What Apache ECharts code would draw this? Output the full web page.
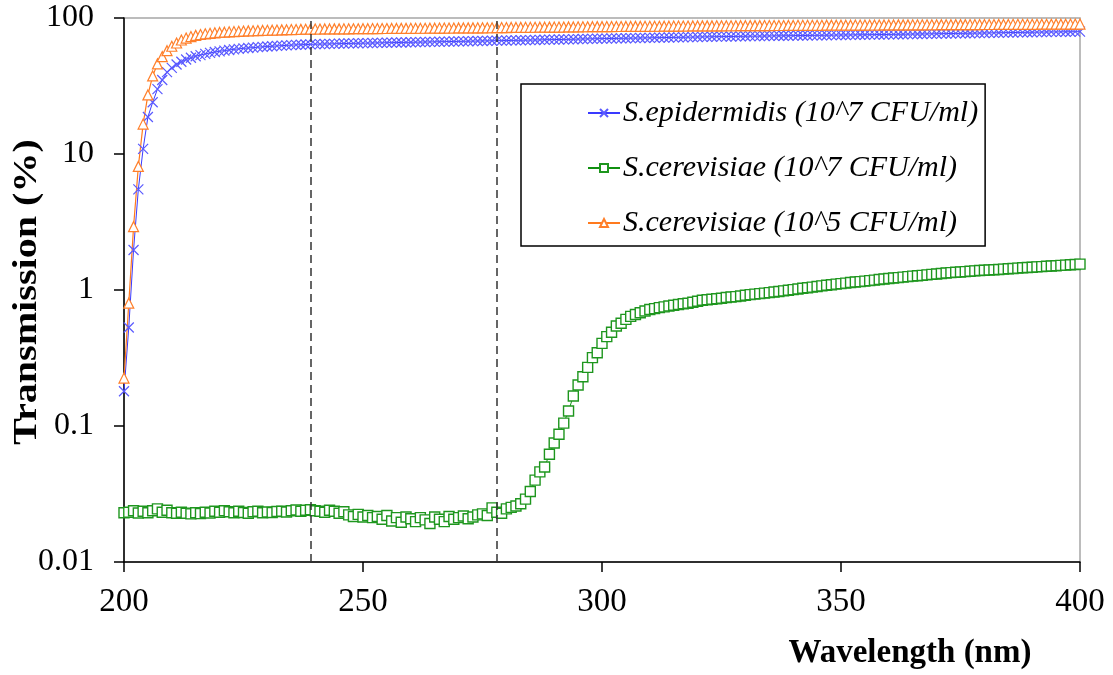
<!DOCTYPE html>
<html>
<head>
<meta charset="utf-8">
<script src="https://cdn.jsdelivr.net/npm/echarts@6/dist/echarts.min.js"></script>
<style>html,body{margin:0;padding:0;background:#fff}#c{width:1113px;height:675px}</style>
</head>
<body>
<div id="c"></div>
<script>
// Wavelength grid: 200..400 nm, 1 nm step
const wlStart = 200, wlEnd = 400;
const seriesNames = ['S.epidermidis (10^7 CFU/ml)', 'S.cerevisiae (10^7 CFU/ml)', 'S.cerevisiae (10^5 CFU/ml)'];
const yTickLabels = ['0.01', '0.1', '1', '10', '100'];
const xTickLabels = ['200', '250', '300', '350', '400'];
const guideLines = [239, 278];

const epidermidis7 = [
0.18, 0.53, 1.97, 5.5, 10.9, 18.7, 24, 30, 35, 40,
43, 45.5, 47.7, 49.5, 51, 52.3, 53.4, 54.5, 55.4, 56.2,
56.9, 57.6, 58.2, 58.8, 59.3, 59.8, 60.2, 60.6, 61.0, 61.4,
61.7, 62.0, 62.3, 62.6, 62.9, 63.2, 63.4, 63.6, 63.8, 64.0,
64.2, 64.3, 64.4, 64.5, 64.6, 64.8, 64.9, 65.0, 65.1, 65.2,
65.3, 65.4, 65.5, 65.6, 65.7, 65.8, 65.9, 66.0, 66.1, 66.2,
66.3, 66.4, 66.5, 66.6, 66.7, 66.8, 66.9, 67.0, 67.1, 67.2,
67.3, 67.4, 67.5, 67.6, 67.7, 67.8, 67.9, 68.0, 68.1, 68.2,
68.3, 68.4, 68.5, 68.6, 68.7, 68.8, 68.9, 69.0, 69.2, 69.3,
69.4, 69.5, 69.6, 69.7, 69.8, 70.0, 70.1, 70.2, 70.3, 70.4,
70.5, 70.6, 70.7, 70.8, 70.9, 71.0, 71.1, 71.2, 71.3, 71.4,
71.5, 71.6, 71.7, 71.8, 71.9, 72.0, 72.1, 72.2, 72.3, 72.4,
72.5, 72.6, 72.7, 72.8, 72.9, 73.0, 73.0, 73.1, 73.2, 73.3,
73.4, 73.5, 73.5, 73.6, 73.7, 73.8, 73.9, 74.0, 74.0, 74.1,
74.2, 74.3, 74.3, 74.4, 74.5, 74.6, 74.6, 74.7, 74.8, 74.9,
75.0, 75.0, 75.1, 75.2, 75.3, 75.3, 75.4, 75.5, 75.6, 75.6,
75.7, 75.8, 75.9, 76.0, 76.1, 76.2, 76.3, 76.3, 76.4, 76.5,
76.6, 76.7, 76.8, 76.9, 77.0, 77.1, 77.2, 77.3, 77.4, 77.5,
77.6, 77.7, 77.8, 77.9, 78.0, 78.1, 78.2, 78.3, 78.4, 78.5,
78.6, 78.7, 78.8, 78.9, 79.0, 79.0, 79.1, 79.2, 79.2, 79.3,
79.3
];

const cerevisiae7 = [
0.0230, 0.0232, 0.0238, 0.0229, 0.0236, 0.0230, 0.0238, 0.0246, 0.0232, 0.0240,
0.0230, 0.0228, 0.0232, 0.0228, 0.0226, 0.0230, 0.0227, 0.0232, 0.0229, 0.0236,
0.0232, 0.0238, 0.0234, 0.0230, 0.0236, 0.0231, 0.0228, 0.0234, 0.0236, 0.0230,
0.0233, 0.0231, 0.0235, 0.0236, 0.0233, 0.0238, 0.0241, 0.0236, 0.0240, 0.0242,
0.0238, 0.0236, 0.0232, 0.0240, 0.0236, 0.0228, 0.0234, 0.0222, 0.0216, 0.0224,
0.0214, 0.0220, 0.0212, 0.0216, 0.0206, 0.0220, 0.0200, 0.0212, 0.0196, 0.0214,
0.0208, 0.0198, 0.0212, 0.0204, 0.0192, 0.0214, 0.0206, 0.0198, 0.0216, 0.0206,
0.0212, 0.0218, 0.0208, 0.0214, 0.0222, 0.0226, 0.0220, 0.0250, 0.0232, 0.0228,
0.0246, 0.0252, 0.0258, 0.0268, 0.0290, 0.0330, 0.0400, 0.0460, 0.0500, 0.0620,
0.0750, 0.0870, 0.105, 0.129, 0.166, 0.200, 0.230, 0.270, 0.318, 0.346,
0.405, 0.454, 0.489, 0.543, 0.569, 0.608, 0.640, 0.660, 0.680, 0.700,
0.718, 0.730, 0.742, 0.752, 0.762, 0.772, 0.782, 0.792, 0.800, 0.812,
0.826, 0.840, 0.848, 0.856, 0.862, 0.870, 0.880, 0.888, 0.894, 0.904,
0.914, 0.924, 0.932, 0.940, 0.948, 0.956, 0.966, 0.976, 0.986, 0.996,
1.006, 1.018, 1.030, 1.040, 1.050, 1.060, 1.072, 1.084, 1.094, 1.104,
1.114, 1.124, 1.134, 1.144, 1.152, 1.162, 1.172, 1.182, 1.194, 1.204,
1.214, 1.224, 1.234, 1.244, 1.254, 1.264, 1.272, 1.282, 1.292, 1.302,
1.312, 1.322, 1.332, 1.342, 1.350, 1.358, 1.366, 1.374, 1.382, 1.390,
1.398, 1.404, 1.410, 1.416, 1.424, 1.432, 1.440, 1.448, 1.456, 1.462,
1.470, 1.478, 1.486, 1.494, 1.500, 1.508, 1.516, 1.524, 1.532, 1.540,
1.550
];

const cerevisiae5 = [
0.225, 0.80, 2.92, 8.1, 16.6, 27.2, 37.5, 46, 52, 57.5,
62, 65.5, 68.9, 71.2, 73, 74.5, 75.6, 76.5, 77.2, 77.8,
78.3, 78.7, 79.1, 79.5, 79.8, 80.1, 80.4, 80.6, 80.8, 81.0,
81.2, 81.4, 81.6, 81.8, 82.0, 82.2, 82.3, 82.5, 82.7, 82.8,
83.0, 83.0, 83.1, 83.1, 83.2, 83.2, 83.3, 83.3, 83.4, 83.4,
83.5, 83.5, 83.6, 83.6, 83.7, 83.7, 83.8, 83.8, 83.9, 83.9,
84.0, 84.0, 84.1, 84.1, 84.2, 84.2, 84.3, 84.3, 84.4, 84.4,
84.5, 84.5, 84.6, 84.6, 84.7, 84.7, 84.8, 84.8, 84.9, 85.0,
85.1, 85.2, 85.2, 85.3, 85.4, 85.4, 85.5, 85.6, 85.6, 85.7,
85.8, 85.8, 85.9, 86.0, 86.0, 86.1, 86.2, 86.2, 86.3, 86.4,
86.4, 86.5, 86.5, 86.6, 86.6, 86.7, 86.7, 86.8, 86.8, 86.9,
86.9, 87.0, 87.0, 87.1, 87.1, 87.2, 87.2, 87.3, 87.3, 87.4,
87.4, 87.5, 87.5, 87.5, 87.6, 87.6, 87.7, 87.7, 87.7, 87.8,
87.8, 87.9, 87.9, 87.9, 88.0, 88.0, 88.1, 88.1, 88.1, 88.2,
88.2, 88.3, 88.3, 88.3, 88.4, 88.4, 88.4, 88.5, 88.5, 88.5,
88.6, 88.6, 88.6, 88.7, 88.7, 88.7, 88.8, 88.8, 88.8, 88.9,
88.9, 88.9, 89.0, 89.0, 89.0, 89.1, 89.1, 89.1, 89.2, 89.2,
89.2, 89.3, 89.3, 89.3, 89.4, 89.4, 89.4, 89.5, 89.5, 89.5,
89.6, 89.6, 89.6, 89.7, 89.7, 89.7, 89.8, 89.8, 89.8, 89.9,
89.9, 89.9, 90.0, 90.0, 90.0, 90.1, 90.1, 90.1, 90.2, 90.2,
90.3
];

function pairs(arr) { return arr.map((v, i) => [wlStart + i, v]); }

const FONT = '"Liberation Serif", "Times New Roman", serif';
const chart = echarts.init(document.getElementById('c'), null, { renderer: 'canvas' });
const option = {
  animation: false,
  backgroundColor: '#fff',
  grid: { left: 124, right: 33, top: 18, bottom: 113, show: true, borderColor: '#a6a6a6', borderWidth: 1.5, backgroundColor: 'transparent' },
  xAxis: {
    type: 'value', min: wlStart, max: wlEnd, interval: 50,
    axisLine: { show: true, onZero: false, lineStyle: { color: '#000', width: 1.5 } },
    axisTick: { show: true, inside: false, length: 10, lineStyle: { color: '#000', width: 1.5 } },
    splitLine: { show: false },
    axisLabel: { margin: 24, color: '#000', fontFamily: FONT, fontSize: 33,
      formatter: v => xTickLabels[Math.round((v - wlStart) / 50)] }
  },
  yAxis: {
    type: 'log', logBase: 10, min: 0.01, max: 100,
    axisLine: { show: true, onZero: false, lineStyle: { color: '#000', width: 1.5 } },
    axisTick: { show: true, inside: false, length: 10, lineStyle: { color: '#000', width: 1.5 } },
    minorTick: { show: false },
    splitLine: { show: false },
    axisLabel: { margin: 30, color: '#000', fontFamily: FONT, fontSize: 32,
      formatter: v => yTickLabels[Math.round(Math.log10(v)) + 2] }
  },
  legend: {
    left: 521, top: 84, orient: 'vertical',
    padding: [14, 7, 8, 66], itemGap: 25, itemWidth: 32, itemHeight: 10,
    borderColor: '#000', borderWidth: 1.5, backgroundColor: '#fff',
    textStyle: { fontFamily: FONT, fontStyle: 'italic', fontSize: 30, color: '#000', padding: [0, 0, 0, -2] },
    data: seriesNames
  },
  graphic: [
    { type: 'text', x: 27, y: 292, rotation: Math.PI / 2, scaleX: 1.18,
      style: { text: 'Transmission (%)', fontFamily: FONT, fontWeight: 'bold', fontSize: 34, fill: '#000', align: 'center', verticalAlign: 'middle' } },
    { type: 'text', x: 910, y: 653,
      style: { text: 'Wavelength (nm)', fontFamily: FONT, fontWeight: 'bold', fontSize: 33, fill: '#000', align: 'center', verticalAlign: 'middle' } }
  ],
  series: [
    { name: seriesNames[0], type: 'line', data: pairs(epidermidis7),
      symbol: 'path://M0,0L10,10M10,0L0,10', symbolSize: 10, showAllSymbol: true,
      lineStyle: { color: '#3a3aff', width: 1 },
      itemStyle: { color: 'rgba(0,0,0,0)', borderColor: '#5a5aff', borderWidth: 1.2 },
      markLine: { silent: true, symbol: ['none', 'none'], label: { show: false },
        lineStyle: { type: [8, 5], color: '#333', width: 1.5 },
        data: guideLines.map(v => ({ xAxis: v })) } },
    { name: seriesNames[1], type: 'line', data: pairs(cerevisiae7),
      symbol: 'rect', symbolSize: 10, showAllSymbol: true,
      lineStyle: { color: '#109010', width: 1 },
      itemStyle: { color: '#fff', borderColor: '#1e961e', borderWidth: 1.4 } },
    { name: seriesNames[2], type: 'line', data: pairs(cerevisiae5),
      symbol: 'triangle', symbolSize: 10, showAllSymbol: true,
      lineStyle: { color: '#ff7a1e', width: 1.2 },
      itemStyle: { color: '#fff', borderColor: '#ff7f2a', borderWidth: 1.2 } }
  ]
};
chart.setOption(option);
</script>
</body>
</html>
